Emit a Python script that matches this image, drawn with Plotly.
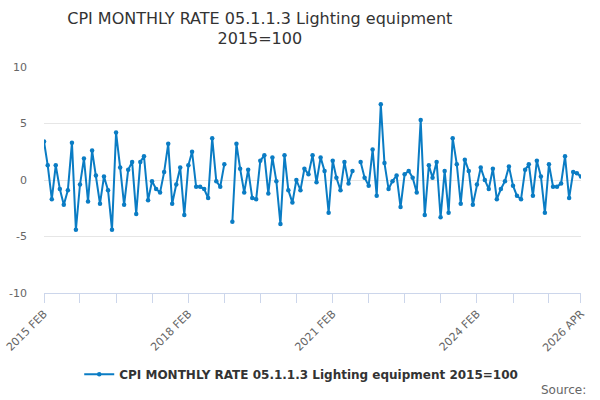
import pandas as pd
import plotly.graph_objects as go

# Monthly rate, Feb 2015 .. Apr 2026 (None = no value published)
months = pd.date_range("2015-02-01", "2026-04-01", freq="MS")

rate_2015 = [3.4, 1.3, -1.7, 1.3, -0.8, -2.2, -0.9, 3.3, -4.4, -0.4, 1.9]
rate_2016 = [-1.9, 2.6, 0.4, -2.1, 0.3, -0.9, -4.4, 4.2, 1.1, -2.2, 0.9, 1.6]
rate_2017 = [-3.0, 1.6, 2.1, -1.8, -0.1, -0.8, -1.1, 0.7, 3.2, -2.1, -0.4, 1.1]
rate_2018 = [-3.1, 1.3, 2.5, -0.6, -0.6, -0.8, -1.6, 3.7, -0.1, -0.6, 1.4, None]
rate_2019 = [-3.7, 3.2, 1.0, -1.1, 0.9, -1.6, -1.7, 1.7, 2.2, -1.2, 2.0, -0.1]
rate_2020 = [-3.9, 2.2, -0.9, -2.0, 0.0, -0.9, 1.0, 0.5, 2.2, -0.2, 2.0, 0.8]
rate_2021 = [-2.9, 1.7, 0.2, -0.9, 1.6, -0.3, 0.8, None, 1.6, 0.2, -0.5, 2.7]
rate_2022 = [-1.4, 6.7, 1.5, -0.8, -0.1, 0.4, -2.4, 0.5, 0.8, 0.2, -1.1, 5.3]
rate_2023 = [-3.1, 1.3, 0.2, 1.6, -3.3, 0.8, -2.9, 3.7, 1.4, -2.1, 1.8, 0.8]
rate_2024 = [-2.2, -0.4, 1.1, 0.0, -0.8, 1.0, -1.7, -0.8, -0.1, 1.2, -0.5, -1.4]
rate_2025 = [-1.7, 0.9, 1.4, -1.4, 1.7, 0.3, -2.9, 1.4, -0.6, -0.6, -0.3, 2.1]
rate_2026 = [-1.6, 0.7, 0.6, 0.3]

rates = (rate_2015 + rate_2016 + rate_2017 + rate_2018 + rate_2019 + rate_2020
         + rate_2021 + rate_2022 + rate_2023 + rate_2024 + rate_2025 + rate_2026)

series_name = "CPI MONTHLY RATE 05.1.1.3 Lighting equipment 2015=100"
labelled = ["2015-02-01", "2018-02-01", "2021-02-01", "2024-02-01", "2026-04-01"]

y_ticks = [-10, -5, 0, 5, 10]
y_tick_text = ["-10", "-5", "0", "5", "10"]

# tick marks every 9 months, plus the last month
tick_dates = list(months[::9]) + [months[-1]]
tick_text = []
for d in tick_dates:
    if d.strftime("%Y-%m-%d") in labelled:
        tick_text.append(d.strftime("%Y %b").upper())
    else:
        tick_text.append("")

fig = go.Figure()
fig.add_trace(
    go.Scatter(
        x=months,
        y=rates,
        mode="lines+markers",
        name=series_name,
        connectgaps=False,
        line=dict(color="#0a7cc4", width=2),
        marker=dict(color="#0a7cc4", size=4.5),
    )
)

fig.update_layout(
    width=600,
    height=400,
    margin=dict(l=44, r=19, t=67, b=107, autoexpand=False),
    paper_bgcolor="white",
    plot_bgcolor="white",
    font=dict(family="DejaVu Sans", color="#666666"),
    title=dict(
        text="CPI MONTHLY RATE 05.1.1.3 Lighting equipment<br>2015=100",
        x=0.433,
        xanchor="center",
        xref="container",
        yref="container",
        y=0.941,
        yanchor="top",
        font=dict(size=16, color="#333333"),
    ),
    showlegend=True,
    legend=dict(
        orientation="h",
        x=0.479,
        xanchor="center",
        y=-0.295,
        yanchor="top",
        font=dict(size=12, color="#333333", family="DejaVu Sans", weight="bold"),
        itemwidth=30,
    ),
    annotations=[
        dict(
            text="Source:",
            xref="paper",
            yref="paper",
            x=1.013,
            y=-0.429,
            xanchor="right",
            yanchor="middle",
            showarrow=False,
            font=dict(size=12, color="#666666"),
        )
    ],
)

fig.update_xaxes(
    range=[months[0] - pd.Timedelta(hours=6), months[-1] + pd.Timedelta(hours=6)],
    tickvals=tick_dates,
    ticktext=tick_text,
    tickangle=-45,
    ticks="outside",
    ticklen=9,
    tickcolor="#ccd6eb",
    showline=True,
    linecolor="#ccd6eb",
    showgrid=False,
    zeroline=False,
    automargin=False,
    ticklabeloverflow="allow",
    tickfont=dict(size=11, color="#666666"),
)
fig.update_yaxes(
    range=[-10, 10],
    tickvals=y_ticks,
    ticktext=y_tick_text,
    gridcolor="#e6e6e6",
    zeroline=False,
    showline=False,
    automargin=False,
    tickfont=dict(size=11, color="#666666"),
    ticklabelstandoff=16,
)

# drop the default 8px body margin so the figure fills the window exactly
fig.write_html(
    "out.html",
    config={"displayModeBar": False},
    post_script="document.body.style.margin = '0';",
)
